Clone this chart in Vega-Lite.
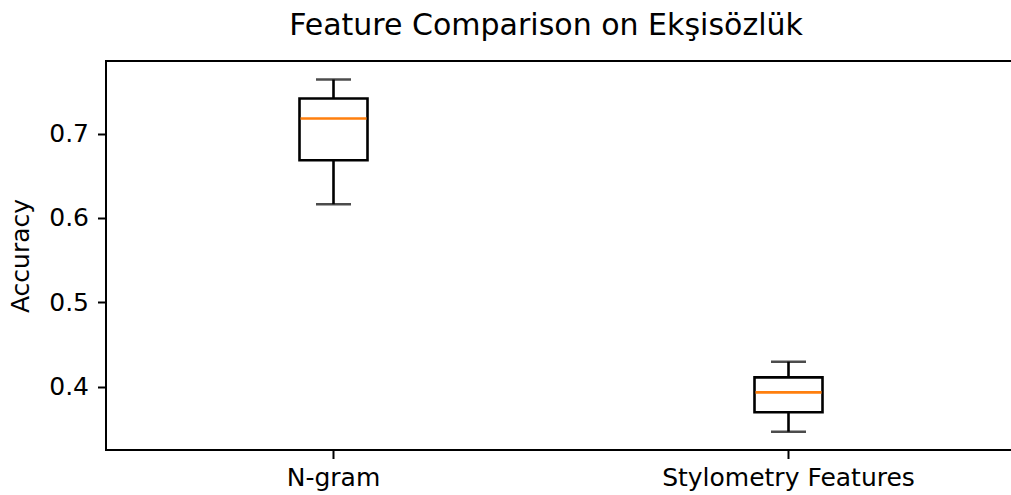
{
  "$schema": "https://vega.github.io/schema/vega-lite/v6.json",
  "width": 910,
  "height": 389,
  "autosize": {"type": "none"},
  "padding": {"left": 106, "top": 61, "right": 0, "bottom": 45},
  "background": "white",
  "config": {
    "font": "DejaVu Sans",
    "view": {"stroke": "black", "strokeWidth": 2},
    "axis": {
      "domain": false,
      "grid": false,
      "tickColor": "black",
      "tickWidth": 2,
      "tickSize": 8.5,
      "labelFont": "DejaVu Sans",
      "labelFontSize": 25,
      "labelColor": "black",
      "labelLimit": 0,
      "titleFont": "DejaVu Sans",
      "titleFontSize": 25,
      "titleFontWeight": "normal",
      "titleColor": "black"
    }
  },
  "title": {
    "text": "Feature Comparison on Ekşisözlük",
    "font": "DejaVu Sans",
    "fontSize": 30,
    "fontWeight": "normal",
    "color": "black",
    "anchor": "middle",
    "baseline": "alphabetic",
    "offset": -4,
    "dx": -15
  },
  "data": {
    "values": [
      {"feature": "N-gram", "lower": 0.6163, "q1": 0.6684, "median": 0.7178, "q3": 0.7415, "upper": 0.764},
      {"feature": "Stylometry Features", "lower": 0.3467, "q1": 0.3697, "median": 0.3933, "q3": 0.4111, "upper": 0.4296}
    ]
  },
  "encoding": {
    "x": {
      "field": "feature",
      "type": "nominal",
      "sort": null,
      "scale": {"type": "band", "paddingInner": 0, "paddingOuter": 0},
      "axis": {"title": null, "labelAngle": 0, "labelPadding": 7}
    }
  },
  "layer": [
    {
      "mark": {"type": "rule", "color": "black", "strokeWidth": 2.6},
      "encoding": {
        "y": {
          "field": "lower",
          "type": "quantitative",
          "scale": {"domain": [0.325, 0.786], "nice": false, "zero": false},
          "axis": {"title": "Accuracy", "values": [0.4, 0.5, 0.6, 0.7], "format": ".1f", "labelPadding": 9, "titlePadding": 15}
        },
        "y2": {"field": "upper"}
      }
    },
    {
      "mark": {"type": "tick", "color": "black", "size": 35, "thickness": 2.6},
      "encoding": {"y": {"field": "lower", "type": "quantitative"}}
    },
    {
      "mark": {"type": "tick", "color": "black", "size": 35, "thickness": 2.6},
      "encoding": {"y": {"field": "upper", "type": "quantitative"}}
    },
    {
      "mark": {"type": "bar", "fill": "white", "stroke": "black", "strokeWidth": 2.6, "size": 68},
      "encoding": {
        "y": {"field": "q1", "type": "quantitative"},
        "y2": {"field": "q3"}
      }
    },
    {
      "mark": {"type": "tick", "color": "#ff7f0e", "size": 66, "thickness": 2.6, "opacity": 1},
      "encoding": {"y": {"field": "median", "type": "quantitative"}}
    }
  ]
}
